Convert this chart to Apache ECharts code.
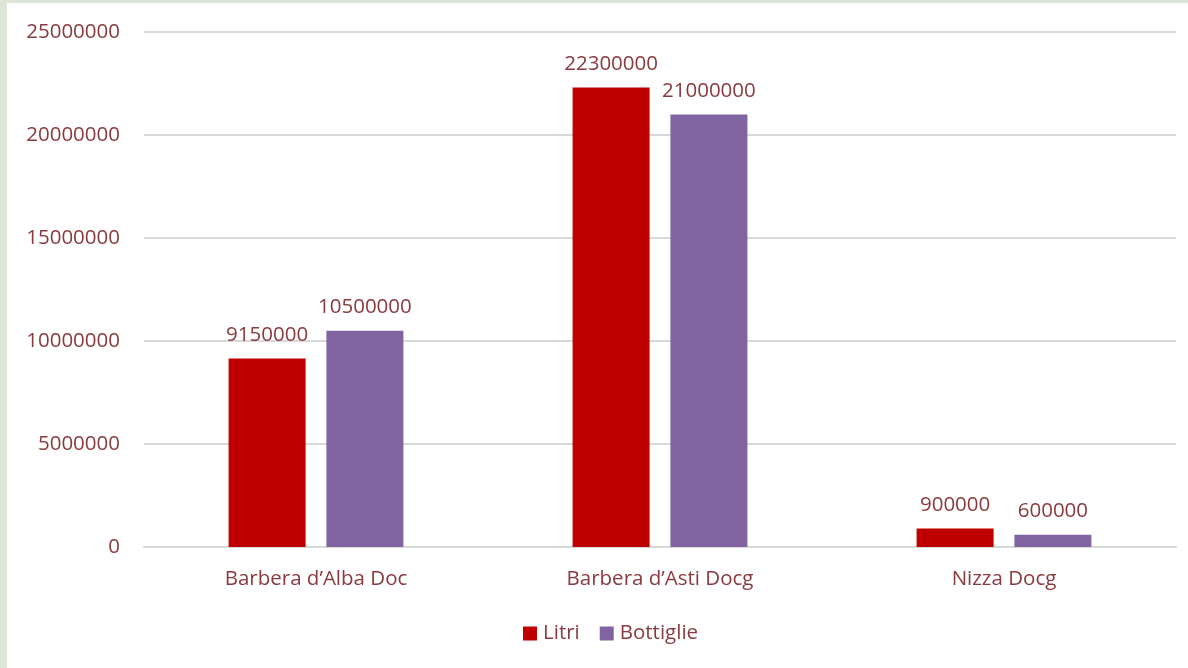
<!DOCTYPE html>
<html>
<head>
<meta charset="utf-8">
<script src="https://cdn.jsdelivr.net/npm/echarts@6/dist/echarts.min.js"></script>
<style>
html,body{margin:0;padding:0;width:1188px;height:668px;overflow:hidden;background:#dde5d6;}
#frame{position:absolute;left:7px;top:3px;width:1181px;height:665px;background:#ffffff;}
#chart{position:absolute;left:0;top:0;width:1181px;height:665px;}
</style>
</head>
<body>
<div id="frame"><div id="chart"></div></div>
<script>
const categories = ["Barbera d\u2019Alba Doc", "Barbera d\u2019Asti Docg", "Nizza Docg"];
const litri = [9150000, 22300000, 900000];
const bottiglie = [10500000, 21000000, 600000];
const seriesNames = ["Litri", "Bottiglie"];

const textColor = "#8a3a3e";
const font = "Open Sans";
const fs = 20.5;
const chart = echarts.init(document.getElementById('chart'));
chart.setOption({
  animation: false,
  textStyle: {fontFamily: font},
  grid: {left: 137, right: 12, top: 29, bottom: 121, containLabel: false},
  legend: {
    data: seriesNames, bottom: 19, left: 511,
    itemWidth: 14, itemHeight: 14, itemGap: 20, icon: 'rect',
    textStyle: {color: textColor, fontSize: fs, fontFamily: font, padding: [0,0,0,1]}
  },
  xAxis: {
    type: 'category', data: categories,
    axisLine: {lineStyle: {color: '#d9d9d9', width: 2}},
    axisTick: {show: false},
    axisLabel: {color: textColor, fontSize: fs, margin: 22, fontFamily: font}
  },
  yAxis: {
    type: 'value', min: 0, max: 25000000, interval: 5000000,
    axisLine: {show: false}, axisTick: {show: false},
    splitLine: {lineStyle: {color: '#d9d9d9', width: 2}},
    axisLabel: {color: textColor, fontSize: fs, margin: 24, fontFamily: font,
      formatter: v => String(v)}
  },
  series: [
    {name: seriesNames[0], type: 'bar', data: litri, barWidth: 77, barGap: '27%',
     itemStyle: {color: '#c00000'},
     label: {show: true, position: 'top', distance: 13, color: textColor, fontSize: fs, fontFamily: font}},
    {name: seriesNames[1], type: 'bar', data: bottiglie, barWidth: 77,
     itemStyle: {color: '#8064a2'},
     label: {show: true, position: 'top', distance: 13, color: textColor, fontSize: fs, fontFamily: font}}
  ]
});
</script>
</body>
</html>
